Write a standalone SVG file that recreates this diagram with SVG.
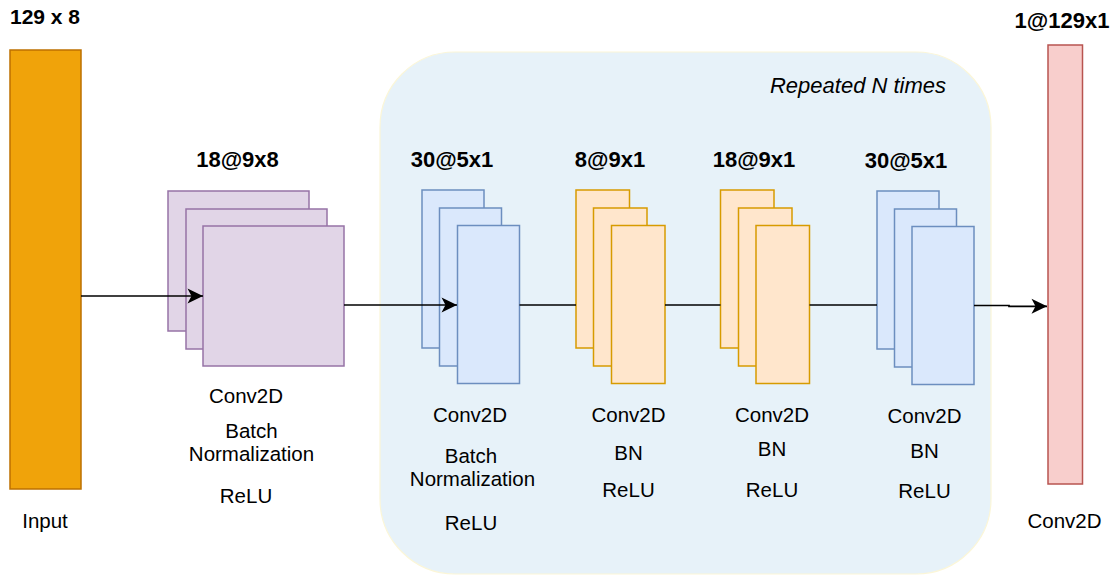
<svg xmlns="http://www.w3.org/2000/svg" width="1117" height="576" viewBox="0 0 1117 576">
<style>
text{font-family:"Liberation Sans",Arial,Helvetica,sans-serif;fill:#000}
.lbl{font-size:20.5px;text-anchor:middle}
.dim{font-size:22px;font-weight:bold;text-anchor:middle}
.purple{fill:#e1d5e7;stroke:#9673a6;stroke-width:1.5}
.blue{fill:#dae8fc;stroke:#6c8ebf;stroke-width:1.5}
.orange{fill:#ffe6cc;stroke:#d79b00;stroke-width:1.5}
.conn{fill:none;stroke:#000;stroke-width:1.7}
</style>
<defs>
<marker id="arr" markerUnits="userSpaceOnUse" viewBox="-16 -8 17 16" refX="0" refY="0" markerWidth="17" markerHeight="16" orient="auto">
<path d="M0,0 L-15.5,-7.5 L-11.5,0 L-15.5,7.5 Z" fill="#000"/>
</marker>
</defs>
<rect width="1117" height="576" fill="#fff"/>

<g id="repeat-block">
<rect x="380" y="52" width="611" height="522" rx="75" ry="75" fill="#e7f2f9" stroke="#fbf6d8" stroke-width="1.2"/>
<text x="858" y="93" style="font-size:22px;font-style:italic;text-anchor:middle">Repeated N times</text>
</g>

<g id="input">
<rect x="10" y="50" width="71" height="439" fill="#f0a30a" stroke="#bd7000" stroke-width="1.5"/>
<text x="45" y="24" class="dim" style="font-size:21px">129 x 8</text>
<text x="45" y="528" class="lbl">Input</text>
</g>

<g id="conv1">
<rect x="168" y="191" width="141" height="140" class="purple"/>
<rect x="186" y="209" width="141" height="140" class="purple"/>
<rect x="203" y="226" width="141" height="140" class="purple"/>
<text x="237.5" y="167" class="dim">18@9x8</text>
<text x="246" y="403" class="lbl">Conv2D</text>
<text x="251.5" y="438" class="lbl">Batch</text>
<text x="251.5" y="461" class="lbl">Normalization</text>
<text x="246" y="503" class="lbl">ReLU</text>
</g>

<g id="block-a">
<rect x="422" y="190" width="62" height="158" class="blue"/>
<rect x="439.5" y="208" width="62" height="158" class="blue"/>
<rect x="457.5" y="225.5" width="62" height="158" class="blue"/>
<text x="452" y="167" class="dim">30@5x1</text>
<text x="470" y="422" class="lbl">Conv2D</text>
<text x="471" y="463" class="lbl">Batch</text>
<text x="472.5" y="486" class="lbl">Normalization</text>
<text x="471" y="530" class="lbl">ReLU</text>
</g>

<g id="block-b">
<rect x="576" y="190" width="53.5" height="158" class="orange"/>
<rect x="593.5" y="208" width="53.5" height="158" class="orange"/>
<rect x="611.5" y="225.5" width="53.5" height="158" class="orange"/>
<text x="610" y="167" class="dim">8@9x1</text>
<text x="628.5" y="422" class="lbl">Conv2D</text>
<text x="628.5" y="460" class="lbl">BN</text>
<text x="628.5" y="497" class="lbl">ReLU</text>
</g>

<g id="block-c">
<rect x="720.5" y="190" width="53.5" height="158" class="orange"/>
<rect x="738.5" y="208" width="53.5" height="158" class="orange"/>
<rect x="756" y="225.5" width="53.5" height="158" class="orange"/>
<text x="754" y="167" class="dim">18@9x1</text>
<text x="772" y="422" class="lbl">Conv2D</text>
<text x="772" y="456" class="lbl">BN</text>
<text x="772" y="497" class="lbl">ReLU</text>
</g>

<g id="block-d">
<rect x="877" y="191" width="62" height="158" class="blue"/>
<rect x="894.5" y="209" width="62" height="158" class="blue"/>
<rect x="912" y="226.5" width="62" height="158" class="blue"/>
<text x="906" y="168" class="dim">30@5x1</text>
<text x="924.5" y="423" class="lbl">Conv2D</text>
<text x="924.5" y="458" class="lbl">BN</text>
<text x="924.5" y="498" class="lbl">ReLU</text>
</g>

<g id="output">
<rect x="1048" y="45" width="34.5" height="439" fill="#f8cecc" stroke="#b85450" stroke-width="1.5"/>
<text x="1062" y="28" class="dim">1@129x1</text>
<text x="1064.5" y="528" class="lbl">Conv2D</text>
</g>

<g id="connectors">
<path class="conn" d="M81,296 L203,296" marker-end="url(#arr)"/>
<path class="conn" d="M344,305 L457,305" marker-end="url(#arr)"/>
<path class="conn" d="M519.5,305 L576,305"/>
<path class="conn" d="M665,305 L720.5,305"/>
<path class="conn" d="M809.5,305 L877,305"/>
<path class="conn" d="M974,305.5 L1009,305.5 L1009,306.3 L1047,306.3" marker-end="url(#arr)"/>
</g>
</svg>
